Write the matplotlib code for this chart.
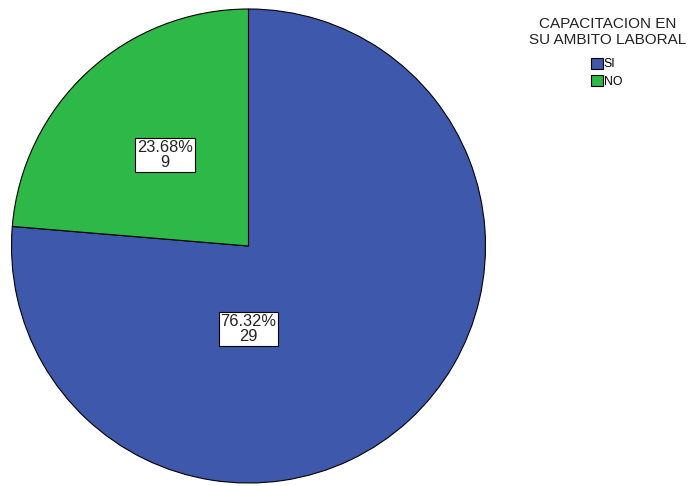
import matplotlib.pyplot as plt
import numpy as np

# data
categories = ['SI', 'NO']
counts = [29, 9]
colors = ['#3e58ac', '#2eb848']
legend_title = 'CAPACITACION EN\nSU AMBITO LABORAL'

plt.rcParams['font.family'] = ['Liberation Sans', 'DejaVu Sans']

fig = plt.figure(figsize=(6.89, 4.86), dpi=100)
ax = fig.add_axes([0, 0, 1, 1])

cx, cy, r = 248.5, 240, 237
wedges, _ = ax.pie(counts, colors=colors, startangle=90, counterclock=False,
                   center=(cx, cy), radius=r, frame=True,
                   wedgeprops=dict(edgecolor='black', linewidth=0.8))
ax.set_xlim(0, 689)
ax.set_ylim(0, 486)
ax.set_aspect('equal')
ax.axis('off')

total = sum(counts)
# label placement (angle in degrees, fraction of radius)
label_pos = [(270, 0.35), (132.6, 0.52)]
for n, (ang, frac) in zip(counts, label_pos):
    x = cx + frac * r * np.cos(np.radians(ang))
    y = cy + frac * r * np.sin(np.radians(ang))
    ax.text(x, y, f'{n / total * 100:.2f}%\n{n}', ha='center', va='center',
            fontsize=11.8, linespacing=1.0, color='#222222',
            bbox=dict(boxstyle='square,pad=0.12', fc='white', ec='black', lw=0.8))

fig.text(608 / 689, 1 - 32 / 486, legend_title, ha='center', va='center',
         fontsize=11, linespacing=1.25, color='#222222')

leg = ax.legend(wedges, categories, loc='upper left',
                bbox_to_anchor=(591 / 689, 1 - 58 / 486), frameon=False,
                fontsize=8.8, handlelength=0.95, handleheight=0.95,
                handletextpad=0.1, labelspacing=0.4, borderpad=0,
                borderaxespad=0)

fig.savefig('out.png', dpi=100)
